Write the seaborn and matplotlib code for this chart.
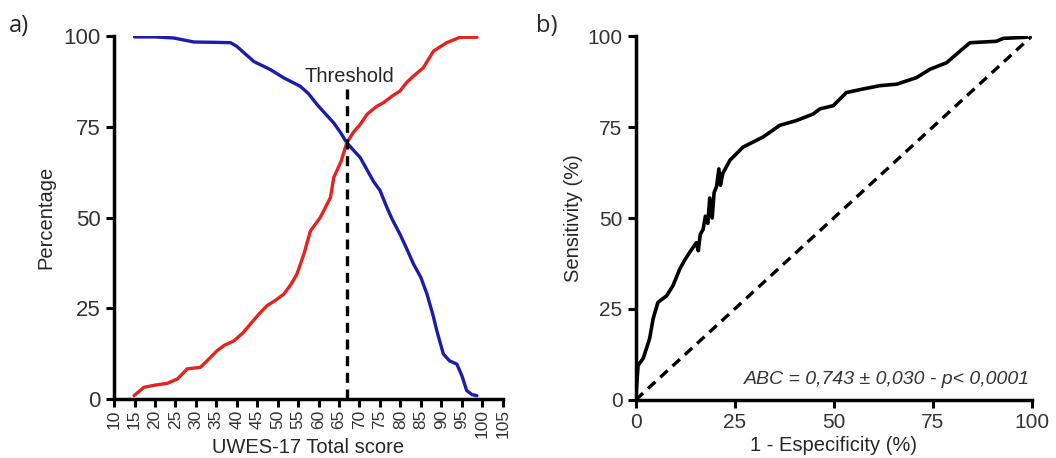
import numpy as np
import pandas as pd
import seaborn as sns
import matplotlib.pyplot as plt

# panel a) - percentage curves vs UWES-17 total score
blue_score = [15, 20, 24.6, 29.5, 35, 38.5, 40, 42, 44.2, 48.2, 51.5, 55.5, 57.5, 59.6, 61.5, 63.7, 65.5,
              66.9, 70.2, 73.4, 75, 76.7, 78, 79.9, 81.5, 83.2, 85, 86.5, 88, 88.9, 90.5, 92, 93.8, 95, 96.2, 97.5, 98.7]
blue_pct = [99.8, 99.8, 99.5, 98.4, 98.3, 98.2, 97.2, 95.2, 93, 90.8, 88.5, 86.2, 84.2, 81.2, 78.8, 76.1, 73.2,
            70.6, 66.5, 60, 57.5, 52.8, 49.5, 45.4, 41.5, 37.2, 33.5, 28.9, 23, 18.8, 12.4, 10.5, 9.6, 6.5, 2.3, 1.2, 0.9]
red_score = [14.9, 17.3, 20, 23, 25.5, 27.9, 31.1, 33, 35.2, 37, 39.3, 41.5, 43.3, 45.5, 47.4, 49.5, 51.5, 53.2,
             54.7, 56.4, 58, 60.4, 62.9, 63.7, 65.5, 66.9, 68.5, 70.2, 71.8, 74, 75.9, 78, 79.9, 81.5, 83.2, 85.6,
             88.1, 91.3, 94.6, 98.7]
red_pct = [0.9, 3.2, 3.8, 4.3, 5.5, 8.3, 8.7, 10.8, 13.3, 14.8, 16, 18.2, 20.6, 23.5, 25.7, 27.2, 28.9, 31.5,
           34.4, 39.9, 46.3, 50, 55.5, 61, 65.5, 70.6, 73.5, 75.7, 78.4, 80.5, 81.7, 83.5, 84.9, 87.2, 89, 91.3,
           95.9, 98.2, 99.7, 99.7]
threshold = 67
x_ticks_a = list(range(10, 106, 5))

# panel b) - ROC curve
fpr = [0, 0.6, 1.9, 3.5, 4.4, 5.6, 7.8, 9.4, 10.2, 11.1, 12.4, 13.6, 15.3, 15.8, 16.3, 17, 17.6, 18.2, 18.7,
       19.3, 19.8, 20.4, 21.0, 21.4, 22, 23.8, 27.1, 32.2, 36.4, 40.6, 44.8, 46.5, 49.9, 53.2, 57.5, 61.7, 65.9,
       70.9, 74.3, 78.5, 81.9, 84.4, 91.1, 92.8, 98.7]
tpr = [0, 9.5, 11.4, 16.8, 22.3, 26.8, 28.6, 31.4, 33.5, 35.9, 38.5, 40.5, 43.2, 41.0, 45.5, 46.8, 50.5, 48.5,
       55.5, 50.0, 57.0, 58.6, 63.5, 59.0, 62.3, 65.9, 69.5, 72.3, 75.5, 76.8, 78.6, 80, 80.9, 84.5, 85.5, 86.4,
       86.8, 88.6, 90.9, 92.7, 95.9, 98.2, 98.6, 99.4, 99.7]
chance = [0, 100]
abc_text = "ABC = 0,743 ± 0,030 - p< 0,0001"

sns.set_style("ticks")
plt.rcParams['font.family'] = ['Liberation Sans', 'DejaVu Sans']

fig = plt.figure(figsize=(10.56, 4.58), dpi=100)
ax1 = fig.add_axes([0.108, 0.129, 0.368, 0.792])
ax2 = fig.add_axes([0.602, 0.127, 0.375, 0.794])

blue_df = pd.DataFrame({"score": blue_score, "pct": blue_pct})
red_df = pd.DataFrame({"score": red_score, "pct": red_pct})
sns.lineplot(data=blue_df, x="score", y="pct", color="#1c1caa", lw=2.4, sort=False, estimator=None, ax=ax1)
sns.lineplot(data=red_df, x="score", y="pct", color="#e8221e", lw=2.4, sort=False, estimator=None, ax=ax1)
ax1.plot([threshold, threshold], [0, 86], color="black", ls=(0, (3, 2)), lw=2.4)
ax1.text(threshold + 0.5, 86.2, "Threshold", ha="center", va="bottom", fontsize=14.5)

ax1.set_xlim(10, 105)
ax1.set_ylim(0, 100)
ax1.set_xticks(x_ticks_a)
ax1.set_xticklabels([str(t) for t in x_ticks_a], rotation=90, fontsize=12.5, color="#333333")
ax1.tick_params(axis="x", pad=1.5)
ax1.set_yticks([0, 25, 50, 75, 100])
ax1.tick_params(axis="y", labelsize=16, labelcolor="#333333")
ax1.set_xlabel("UWES-17 Total score", fontsize=14.5, labelpad=0)
ax1.set_ylabel("Percentage", fontsize=14.5, labelpad=6)

roc_df = pd.DataFrame({"fpr": fpr, "tpr": tpr})
sns.lineplot(data=roc_df, x="fpr", y="tpr", color="black", lw=2.6, sort=False, estimator=None, ax=ax2)
sns.lineplot(x=chance, y=chance, color="black", lw=2.4, ls=(0, (3, 2)), ax=ax2)
ax2.text(99.5, 5.5, abc_text, ha="right", va="center", fontsize=14, style="italic", color="#333333")

ax2.set_xlim(0, 100)
ax2.set_ylim(0, 100)
ax2.set_xticks([0, 25, 50, 75, 100])
ax2.set_yticks([0, 25, 50, 75, 100])
ax2.tick_params(labelsize=15, labelcolor="#333333")
ax2.set_xlabel("1 - Especificity (%)", fontsize=14.5, labelpad=3)
ax2.set_ylabel("Sensitivity (%)", fontsize=14.5, labelpad=3)

for ax in (ax1, ax2):
    sns.despine(ax=ax)
    for s in ("left", "bottom"):
        ax.spines[s].set_linewidth(2.5)
        ax.spines[s].set_color("black")
    ax.tick_params(width=2.2, length=6, color="black")

fig.text(0.008, 0.93, "a)", fontsize=17, family="Open Sans")
fig.text(0.508, 0.93, "b)", fontsize=17, family="Open Sans")

fig.savefig("out.png", dpi=100)
